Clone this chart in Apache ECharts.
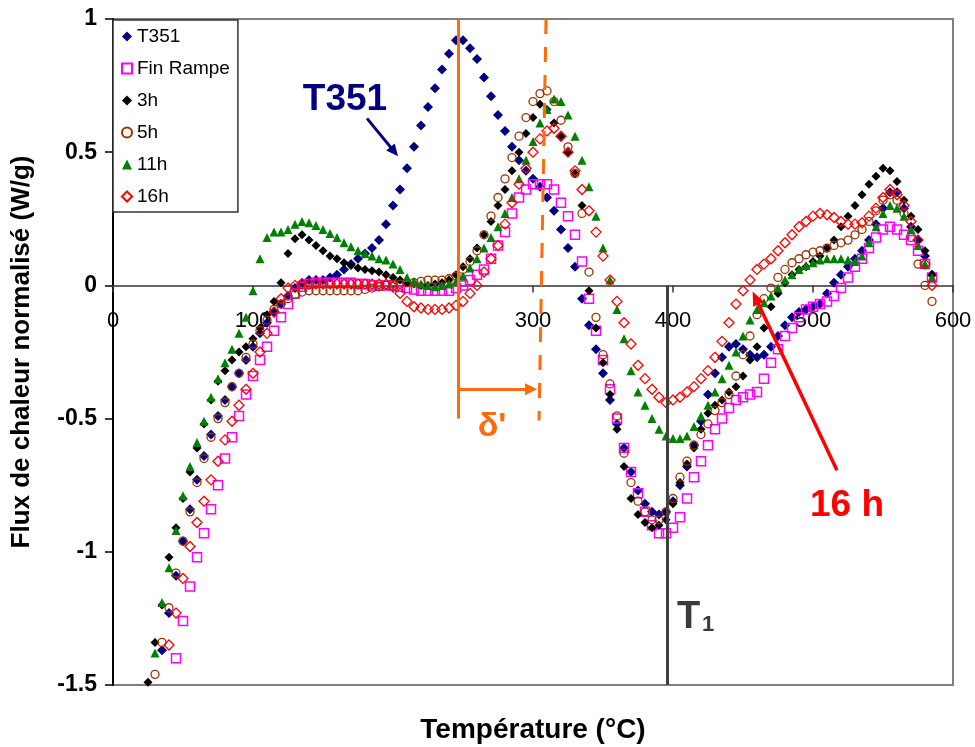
<!DOCTYPE html>
<html>
<head>
<meta charset="utf-8">
<title>Flux de chaleur normalisé</title>
<script src="https://cdn.jsdelivr.net/npm/echarts@6.0.0/dist/echarts.min.js"></script>
<style>
    html, body { margin: 0; padding: 0; background: #fff; }
    #container { width: 975px; height: 747px; }
</style>
</head>
<body>
<div id="container"></div>
<script type="text/javascript">
    // échantillonnage des courbes : de 25 °C à 585 °C, tous les 5 °C (null = hors échelle)
    var tStart = 25, tStep = 5;

    var seriesNames = ['T351', 'Fin Rampe', '3h', '5h', '11h', '16h'];

    var t351 = [
        /* 25 */  null, null, -1.37, -1.23, -1.09, -0.96, -0.84, -0.73, -0.64, -0.56,
        /* 75 */  -0.49, -0.43, -0.38, -0.33, -0.28, -0.23, -0.18, -0.14, -0.10, -0.07,
        /* 125 */ -0.04, -0.01, 0.01, 0.02, 0.02, 0.02, 0.03, 0.04, 0.06, 0.08,
        /* 175 */ 0.10, 0.12, 0.14, 0.17, 0.23, 0.30, 0.36, 0.44, 0.52, 0.60,
        /* 225 */ 0.67, 0.74, 0.81, 0.87, 0.92, 0.92, 0.89, 0.85, 0.78, 0.71,
        /* 275 */ 0.64, 0.58, 0.52, 0.47, 0.43, 0.40, 0.37, 0.33, 0.28, 0.21,
        /* 325 */ 0.14, 0.07, -0.05, -0.15, -0.24, -0.33, -0.43, -0.52, -0.61, -0.70,
        /* 375 */ -0.77, -0.82, -0.85, -0.86, -0.85, -0.81, -0.75, -0.68, -0.60, -0.51,
        /* 425 */ -0.41, -0.33, -0.27, -0.23, -0.22, -0.24, -0.26, -0.27, -0.26, -0.23,
        /* 475 */ -0.19, -0.15, -0.12, -0.10, -0.09, -0.08, -0.07, -0.03, 0.01, 0.04,
        /* 525 */ 0.07, 0.10, 0.13, 0.17, 0.23, 0.29, 0.35, 0.35, 0.29, 0.22,
        /* 575 */ 0.17, 0.11, 0.04
    ];
    var finRampe = [
        /* 25 */  null, null, null, null, -1.40, -1.26, -1.13, -1.02, -0.93, -0.84,
        /* 75 */  -0.75, -0.65, -0.57, -0.49, -0.41, -0.34, -0.28, -0.23, -0.17, -0.12,
        /* 125 */ -0.07, -0.03, -0.005, 0.005, 0.01, 0.01, 0.01, 0.01, 0.01, 0.01,
        /* 175 */ 0.005, 0.005, 0.0, 0.0, 0.0, 0.0, -0.005, -0.01, -0.015, -0.02,
        /* 225 */ -0.02, -0.02, -0.02, -0.02, -0.01, 0.0, 0.02, 0.04, 0.06, 0.10,
        /* 275 */ 0.15, 0.20, 0.27, 0.33, 0.36, 0.38, 0.38, 0.38, 0.36, 0.31,
        /* 325 */ 0.26, 0.19, 0.09, -0.05, -0.17, -0.28, -0.39, -0.50, -0.61, -0.70,
        /* 375 */ -0.78, -0.85, -0.90, -0.93, -0.93, -0.91, -0.87, -0.80, -0.72, -0.66,
        /* 425 */ -0.60, -0.54, -0.50, -0.46, -0.43, -0.42, -0.41, -0.40, -0.35, -0.29,
        /* 475 */ -0.24, -0.19, -0.16, -0.12, -0.09, -0.08, -0.07, -0.06, -0.04, -0.01,
        /* 525 */ 0.03, 0.07, 0.10, 0.14, 0.18, 0.21, 0.22, 0.21, 0.19, 0.17,
        /* 575 */ 0.13, 0.08, 0.03
    ];
    var h3 = [
        /* 25 */  -1.49, -1.34, -1.20, -1.02, -0.91, -0.80, -0.70, -0.61, -0.52, -0.43,
        /* 75 */  -0.36, -0.32, -0.28, -0.25, -0.23, -0.20, -0.16, -0.11, -0.06, 0.01,
        /* 125 */ 0.12, 0.175, 0.19, 0.17, 0.15, 0.13, 0.11, 0.10, 0.085, 0.075,
        /* 175 */ 0.065, 0.06, 0.055, 0.05, 0.04, 0.03, 0.02, 0.01, 0.005, 0.0,
        /* 225 */ 0.0, 0.005, 0.01, 0.02, 0.04, 0.07, 0.10, 0.14, 0.19, 0.24,
        /* 275 */ 0.30, 0.36, 0.43, 0.50, 0.57, 0.63, 0.68, 0.66, 0.61, 0.56,
        /* 325 */ 0.50, 0.42, 0.30, -0.02, -0.16, -0.29, -0.41, -0.54, -0.68, -0.80,
        /* 375 */ -0.86, -0.89, -0.91, -0.90, -0.88, -0.82, -0.74, -0.67, -0.61, -0.54,
        /* 425 */ -0.48, -0.45, -0.43, -0.40, -0.38, -0.34, -0.28, -0.23, -0.16, -0.08,
        /* 475 */ -0.03, 0.01, 0.04, 0.06, 0.07, 0.09, 0.11, 0.14, 0.17, 0.22,
        /* 525 */ 0.26, 0.30, 0.34, 0.38, 0.41, 0.44, 0.43, 0.39, 0.32, 0.26,
        /* 575 */ 0.21, 0.13, 0.04
    ];
    var h5 = [
        /* 25 */  null, -1.46, -1.34, -1.21, -1.08, -0.96, -0.85, -0.74, -0.65, -0.57,
        /* 75 */  -0.50, -0.44, -0.38, -0.33, -0.27, -0.22, -0.17, -0.13, -0.09, -0.07,
        /* 125 */ -0.05, -0.035, -0.025, -0.02, -0.02, -0.02, -0.02, -0.02, -0.02, -0.02,
        /* 175 */ -0.02, -0.015, -0.01, -0.005, 0.0, 0.005, 0.005, 0.01, 0.01, 0.015,
        /* 225 */ 0.02, 0.02, 0.02, 0.025, 0.035, 0.06, 0.09, 0.13, 0.19, 0.26,
        /* 275 */ 0.33, 0.40, 0.48, 0.56, 0.63, 0.69, 0.72, 0.73, 0.69, 0.62,
        /* 325 */ 0.52, 0.42, 0.27, 0.05, -0.12, -0.26, -0.37, -0.49, -0.63, -0.74,
        /* 375 */ -0.81, -0.85, -0.88, -0.88, -0.85, -0.80, -0.72, -0.66, -0.60, -0.56,
        /* 425 */ -0.52, -0.47, -0.44, -0.41, -0.34, -0.26, -0.19, -0.11, -0.05, -0.01,
        /* 475 */ 0.03, 0.06, 0.085, 0.10, 0.115, 0.125, 0.13, 0.14, 0.15, 0.16,
        /* 525 */ 0.17, 0.19, 0.21, 0.24, 0.28, 0.32, 0.34, 0.32, 0.27, 0.18,
        /* 575 */ 0.08, 0.0, -0.06
    ];
    var h11 = [
        /* 25 */  null, -1.38, -1.19, -1.06, -0.92, -0.79, -0.68, -0.59, -0.51, -0.42,
        /* 75 */  -0.35, -0.29, -0.24, -0.18, -0.12, -0.02, 0.10, 0.18, 0.20, 0.20,
        /* 125 */ 0.21, 0.23, 0.24, 0.235, 0.225, 0.21, 0.195, 0.18, 0.16, 0.145,
        /* 175 */ 0.13, 0.12, 0.11, 0.10, 0.095, 0.08, 0.06, 0.03, 0.015, 0.005,
        /* 225 */ 0.0, -0.005, 0.0, 0.005, 0.015, 0.035, 0.065, 0.10, 0.14, 0.18,
        /* 275 */ 0.22, 0.27, 0.33, 0.40, 0.47, 0.54, 0.61, 0.66, 0.70, 0.69,
        /* 325 */ 0.64, 0.56, 0.47, 0.37, 0.26, 0.14, 0.02, -0.09, -0.20, -0.32,
        /* 375 */ -0.40, -0.45, -0.50, -0.54, -0.565, -0.575, -0.575, -0.565, -0.53, -0.49,
        /* 425 */ -0.45, -0.40, -0.35, -0.30, -0.25, -0.19, -0.13, -0.09, -0.065, -0.04,
        /* 475 */ -0.01, 0.02, 0.04, 0.06, 0.075, 0.085, 0.095, 0.10, 0.10, 0.10,
        /* 525 */ 0.095, 0.09, 0.11, 0.16, 0.22, 0.27, 0.30, 0.29, 0.26, 0.21,
        /* 575 */ 0.15, 0.08, 0.03
    ];
    var h16 = [
        /* 25 */  null, null, null, -1.35, -1.23, -1.10, -0.98, -0.89, -0.81, -0.73,
        /* 75 */  -0.66, -0.58, -0.51, -0.45, -0.39, -0.33, -0.25, -0.18, -0.10, -0.05,
        /* 125 */ -0.01, 0.0, 0.005, 0.005, 0.005, 0.005, 0.005, 0.005, 0.005, 0.005,
        /* 175 */ 0.005, 0.005, 0.005, 0.005, 0.005, -0.005, -0.03, -0.06, -0.08, -0.085,
        /* 225 */ -0.09, -0.09, -0.09, -0.085, -0.075, -0.06, -0.03, 0.0, 0.05, 0.10,
        /* 275 */ 0.15, 0.23, 0.31, 0.38, 0.44, 0.50, 0.55, 0.58, 0.59, 0.56,
        /* 325 */ 0.50, 0.43, 0.36, 0.28, 0.20, 0.11, 0.02, -0.06, -0.14, -0.22,
        /* 375 */ -0.30, -0.35, -0.39, -0.42, -0.44, -0.43, -0.42, -0.40, -0.38, -0.35,
        /* 425 */ -0.32, -0.27, -0.21, -0.14, -0.07, -0.02, 0.02, 0.06, 0.08, 0.10,
        /* 475 */ 0.13, 0.16, 0.19, 0.22, 0.24, 0.26, 0.27, 0.265, 0.255, 0.24,
        /* 525 */ 0.23, 0.23, 0.235, 0.26, 0.29, 0.33, 0.36, 0.34, 0.30, 0.24,
        /* 575 */ 0.17, 0.08, 0.0
    ];

    // repères (°C) : pic T351, pic 16h (haut / bas du trait pointillé), T1
    var tPicT351 = 246.4;
    var tPic16h = [309.3, 304.3];
    var tT1 = 395.7;
    var yDelta = -0.39;          // niveau de la flèche delta'
    // flèches : [T départ, flux départ, T arrivée, flux arrivée]
    var arrowT351 = [181.4, 0.627, 200.9, 0.502];
    var arrow16h = [517.1, -0.694, 459.0, -0.047];

    var yMin = -1.5, yMax = 1;
    var gridTop = 19, gridBottom = 62, chartHeight = 747;

    var font = '"Liberation Sans", Arial, sans-serif';
    var orange = '#ff6a0e';

    function toPoints(values) {
        var pts = [];
        for (var i = 0; i < values.length; i++) {
            if (values[i] !== null) pts.push([tStart + i * tStep, values[i]]);
        }
        return pts;
    }

    function serie(name, values, symbol, size, color, hollow, border) {
        return {
            name: name,
            type: 'scatter',
            data: toPoints(values),
            symbol: symbol,
            symbolSize: size,
            clip: true,
            itemStyle: hollow
                ? { color: 'rgba(255,255,255,0)', borderColor: color, borderWidth: border || 1.3, opacity: 1 }
                : { color: color, opacity: 1 },
            emphasis: { disabled: true }
        };
    }

    function seg(x1, y1, x2, y2, style, arrow, arrowSize) {
        return [
            { coord: [x1, y1], symbol: 'none', lineStyle: style },
            { coord: [x2, y2], symbol: arrow ? 'triangle' : 'none', symbolSize: arrowSize || 0 }
        ];
    }

    function label(text, x, y, size, color, align) {
        return {
            type: 'text', x: x, y: y, silent: true, z: 100,
            style: {
                text: text, fill: color, fontSize: size, fontWeight: 'bold', fontFamily: font,
                align: align || 'center', verticalAlign: 'middle',
                textAlign: align || 'center', textVerticalAlign: 'middle'
            }
        };
    }

    // l'axe des températures passe par flux = 0 (décalage depuis le bas de la grille)
    var plotHeight = chartHeight - gridTop - gridBottom;
    var xAxisOffset = -plotHeight * (0 - yMin) / (yMax - yMin);

    var dom = document.getElementById('container');
    var myChart = echarts.init(dom);

    var option = {
        animation: false,
        textStyle: { fontFamily: font },
        grid: {
            left: 113, right: 22, top: gridTop, bottom: gridBottom,
            show: true, borderColor: '#7f7f7f', borderWidth: 2
        },
        legend: {
            data: seriesNames,
            orient: 'vertical',
            left: 113, top: 20,
            padding: [7, 8, 6, 8],
            itemGap: 13,
            itemWidth: 10, itemHeight: 10,
            backgroundColor: '#fff',
            borderColor: '#333', borderWidth: 1.5,
            selectedMode: false,
            textStyle: { fontSize: 19, color: '#000', lineHeight: 19, fontFamily: font }
        },
        xAxis: {
            type: 'value', min: 0, max: 600, interval: 100,
            offset: xAxisOffset,
            axisLine: { onZero: false, lineStyle: { color: '#333', width: 1.5 } },
            axisTick: { show: true, length: 7, lineStyle: { color: '#333', width: 1.5 } },
            axisLabel: { fontSize: 22, color: '#000', margin: 25, fontFamily: font },
            splitLine: { show: false }
        },
        yAxis: {
            type: 'value', min: yMin, max: yMax, interval: 0.5,
            name: 'Flux de chaleur normalisé (W/g)',
            nameLocation: 'middle', nameGap: 78, nameRotate: 90,
            nameTextStyle: { fontSize: 26, fontWeight: 'bold', color: '#000', fontFamily: font },
            axisLine: { show: true, onZero: false, lineStyle: { color: '#000', width: 2 } },
            axisTick: { show: true, length: 8, lineStyle: { color: '#000', width: 1.5 } },
            axisLabel: { fontSize: 23, fontWeight: 'bold', color: '#000', margin: 16, fontFamily: font },
            splitLine: { show: false }
        },
        graphic: [
            label('Température (°C)', 533, 730, 28, '#000'),
            label('T351', 345, 100, 37, '#000080'),
            label('\u03b4\'', 492, 427, 34, orange),
            label('16 h', 847, 506, 37, '#ff0000'),
            label('T', 677, 618, 38, '#3a3a3a', 'left'),
            label('1', 702, 625, 22, '#3a3a3a', 'left')
        ],
        series: [
            serie('T351', t351, 'diamond', 10, '#000080', false),
            serie('Fin Rampe', finRampe, 'rect', 9, '#ff00ff', true, 1.5),
            serie('3h', h3, 'diamond', 9, '#000000', false),
            serie('5h', h5, 'circle', 8, '#993300', true, 1.3),
            serie('11h', h11, 'triangle', 9, '#008000', false),
            serie('16h', h16, 'diamond', 10, '#ff0000', true, 1.3),
            {
                name: 'reperes',
                type: 'scatter',
                data: [],
                silent: true,
                markLine: {
                    silent: true,
                    animation: false,
                    label: { show: false },
                    emphasis: { disabled: true },
                    data: [
                        seg(tPicT351, 1, tPicT351, -0.5, { color: orange, width: 3, type: 'solid' }),
                        seg(tPic16h[0], 1, tPic16h[1], -0.507, { color: orange, width: 3, type: [15, 13] }),
                        seg(tPicT351, yDelta, 298.6, yDelta, { color: orange, width: 3, type: 'solid' }, true, [12, 12]),
                        seg(tT1, 0, tT1, -1.5, { color: '#404040', width: 3, type: 'solid' }),
                        seg(arrowT351[0], arrowT351[1], arrowT351[2], arrowT351[3], { color: '#000080', width: 3, type: 'solid' }, true, [11, 12]),
                        seg(arrow16h[0], arrow16h[1], arrow16h[2], arrow16h[3], { color: '#ff0000', width: 3.5, type: 'solid' }, true, [12, 14])
                    ]
                }
            }
        ]
    };

    if (option && typeof option === 'object') {
        myChart.setOption(option);
    }
</script>
</body>
</html>
